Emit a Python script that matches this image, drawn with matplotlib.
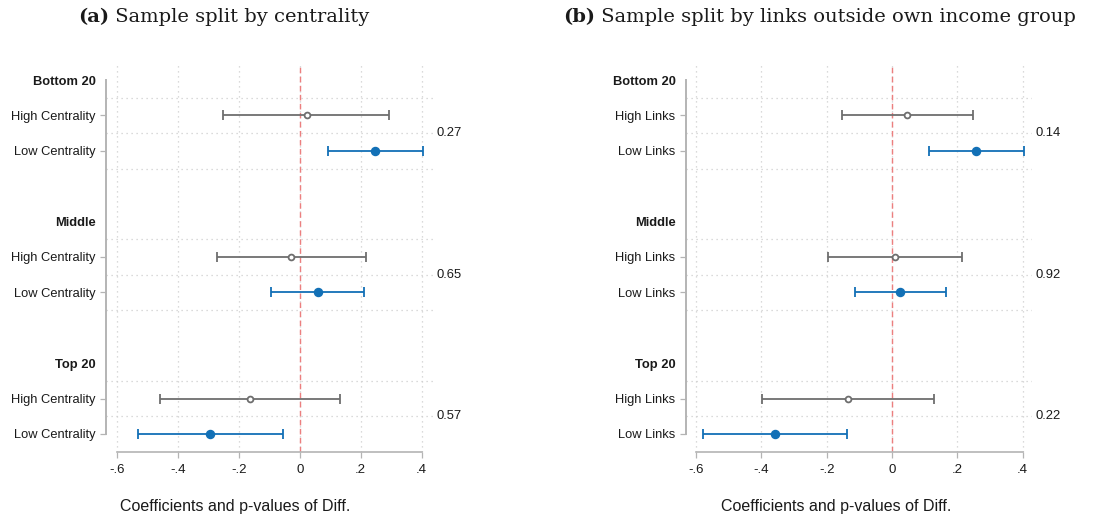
import matplotlib
matplotlib.use("Agg")
import matplotlib.pyplot as plt
from matplotlib.transforms import blended_transform_factory

plt.rcParams['font.family'] = ['Liberation Sans', 'DejaVu Sans']

groups = ["Bottom 20", "Middle", "Top 20"]

# Panel (a): sample split by centrality
a_labels = ["High Centrality", "Low Centrality"]
a_high_coef = [0.023, -0.028, -0.164]
a_high_lo = [-0.250, -0.270, -0.459]
a_high_hi = [0.294, 0.216, 0.131]
a_low_coef = [0.248, 0.059, -0.293]
a_low_lo = [0.092, -0.094, -0.531]
a_low_hi = [0.405, 0.211, -0.055]
a_pvals = ["0.27", "0.65", "0.57"]

# Panel (b): sample split by links outside own income group
b_labels = ["High Links", "Low Links"]
b_high_coef = [0.047, 0.008, -0.136]
b_high_lo = [-0.153, -0.196, -0.399]
b_high_hi = [0.247, 0.214, 0.130]
b_low_coef = [0.258, 0.025, -0.358]
b_low_lo = [0.113, -0.114, -0.578]
b_low_hi = [0.404, 0.164, -0.139]
b_pvals = ["0.14", "0.92", "0.22"]

xticks = [-0.6, -0.4, -0.2, 0.0, 0.2, 0.4]
xticklabels = ["-.6", "-.4", "-.2", "0", ".2", ".4"]

GREY = "#6e6e6e"
BLUE = "#1270b6"
SPINE = "#b4b4b4"
GRID = "#cfcfcf"
TXT = "#1a1a1a"

W, H = 1107, 519
fig = plt.figure(figsize=(W / 100, H / 100), dpi=100)


def panel(rect, labels, hc, hlo, hhi, lc, llo, lhi, pvals, xlim, title_tag, title_text, title_x, xlabel_x):
    ax = fig.add_axes(rect)
    ax.set_xlim(*xlim)
    ax.set_ylim(10.5, -0.5)
    # grid
    for xv in xticks:
        ax.axvline(xv, color=GRID, lw=0.9, ls=(0, (1, 3)), zorder=0)
    for g in range(len(groups)):
        for off in (0.5, 1.5, 2.5):
            y = 4 * g + off
            if y < 10.5:
                ax.axhline(y, color=GRID, lw=0.9, ls=(0, (1, 3)), zorder=0)
    ax.axvline(0, color="#ec7f7f", lw=1.0, ls=(0, (4, 2.5)), zorder=1,
               ymin=0, ymax=(10.5 - (-0.38)) / 11.0)

    yticks, ylabels, headers = [], [], []
    for g, name in enumerate(groups):
        base = 4 * g
        yticks += [base, base + 1, base + 2]
        ylabels += [name, labels[0], labels[1]]
        headers.append(True); headers += [False, False]
        yh, yl = base + 1, base + 2
        ax.errorbar([hc[g]], [yh], xerr=[[hc[g] - hlo[g]], [hhi[g] - hc[g]]],
                    fmt='o', color=GREY, ecolor=GREY, elinewidth=1.3, capsize=3.5,
                    capthick=1.3, markersize=4.2, markerfacecolor='white',
                    markeredgecolor=GREY, markeredgewidth=1.3, zorder=3)
        ax.errorbar([lc[g]], [yl], xerr=[[lc[g] - llo[g]], [lhi[g] - lc[g]]],
                    fmt='o', color=BLUE, ecolor=BLUE, elinewidth=1.3, capsize=3.5,
                    capthick=1.3, markersize=5.8, markerfacecolor=BLUE,
                    markeredgecolor=BLUE, zorder=3)
        tr = blended_transform_factory(ax.transAxes, ax.transData)
        ax.text(1.012, base + 1.5, pvals[g], transform=tr, ha='left', va='center',
                fontsize=9.4, color=TXT)

    ax.set_yticks(yticks)
    ax.set_yticklabels(ylabels, fontsize=9.3, color=TXT)
    for t, lab, hd in zip(ax.yaxis.get_major_ticks(), ax.get_yticklabels(), headers):
        if hd:
            t.tick1line.set_visible(False)
            lab.set_fontweight('bold')
            lab.set_fontsize(9.3)
    ax.tick_params(axis='y', length=4.5, width=0.9, color=SPINE, pad=3)
    ax.set_xticks(xticks)
    ax.set_xticklabels(xticklabels, fontsize=9.5, color=TXT)
    ax.tick_params(axis='x', length=4.5, width=0.9, color=SPINE, pad=4)

    for s in ("top", "right"):
        ax.spines[s].set_visible(False)
    ax.spines['left'].set_color(SPINE)
    ax.spines['left'].set_linewidth(1.4)
    ax.spines['left'].set_bounds(0, 10)
    ax.spines['bottom'].set_color(SPINE)
    ax.spines['bottom'].set_linewidth(1.2)
    ax.spines['bottom'].set_bounds(xticks[0], xticks[-1])

    fig.text(xlabel_x / W, 1 - 506 / H, "Coefficients and p-values of Diff.",
             ha='center', va='center', fontsize=11.5, color=TXT)

    t1 = fig.text(title_x / W, 1 - 17 / H, title_tag, ha='left', va='center',
                  fontsize=14, fontweight='bold', family='DejaVu Serif', color=TXT)
    ax.annotate(" " + title_text, xy=(1, 0.5), xycoords=t1, ha='left', va='center',
                fontsize=14, family='DejaVu Serif', color=TXT, annotation_clip=False)
    return ax


ya = 1 - 451.7 / H
ha_ = (451.7 - 62.3) / H
panel([106 / W, ya, (433 - 106) / W, ha_], a_labels,
      a_high_coef, a_high_lo, a_high_hi, a_low_coef, a_low_lo, a_low_hi, a_pvals,
      (-0.635, 0.437), "(a)", "Sample split by centrality", 78, 235.5)
panel([686 / W, ya, (1031.7 - 686) / W, ha_], b_labels,
      b_high_coef, b_high_lo, b_high_hi, b_low_coef, b_low_lo, b_low_hi, b_pvals,
      (-0.631, 0.428), "(b)", "Sample split by links outside own income group", 563, 836)

fig.savefig("out.png", dpi=100)
